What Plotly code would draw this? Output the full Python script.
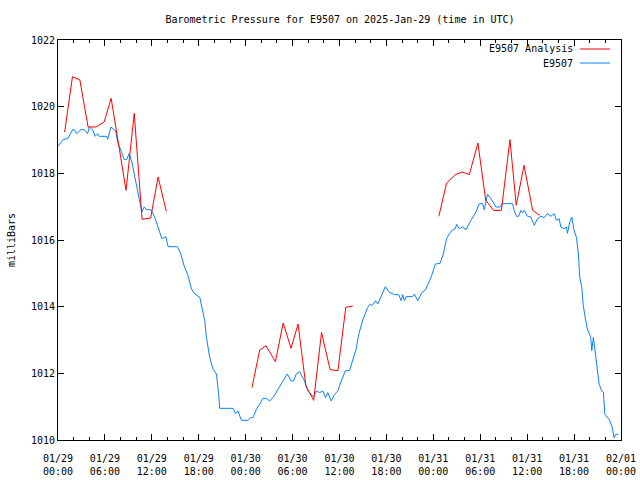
import pandas as pd
import plotly.graph_objects as go

BASE = pd.Timestamp("2025-01-29 00:00")

# Station observations (hours after 2025-01-29 00:00 UTC, pressure in mb)
obs_hours = [0, 0.68, 1.24, 1.88, 2.08, 2.39, 2.94, 3.36, 3.79, 4.0, 4.43, 4.76, 5.07, 5.27, 6.22, 6.35,
             6.77, 7.19, 7.40, 7.62, 8.04, 8.46, 8.77, 9.10, 9.45, 9.96, 10.30, 10.72, 11.02, 11.32,
             11.87, 12.17, 12.51, 12.86, 13.28, 13.79, 14.08, 15.28, 15.70, 16.12, 16.63, 17.07,
             17.49, 18.13, 18.42, 18.77, 18.98, 19.40, 19.83, 20.26, 20.55, 20.68, 22.38, 22.72,
             23.02, 23.45, 24.29, 24.64, 24.93, 25.37, 25.79, 26.21, 26.64, 27.06, 27.49, 28.34,
             28.98, 29.32, 29.83, 30.13, 30.47, 30.89, 31.53, 31.95, 32.39, 32.68, 33.03, 33.45,
             33.87, 34.21, 34.51, 34.94, 35.36, 35.78, 36.22, 36.77, 37.28, 37.70, 38.13, 38.47,
             38.98, 39.61, 39.92, 40.18, 40.60, 40.89, 41.33, 41.87, 42.38, 43.02, 43.57, 43.88,
             44.08, 44.30, 44.52, 45.36, 45.58, 46.00, 46.56, 46.98, 47.71, 48.26, 48.86, 49.28,
             49.70, 50.04, 50.47, 50.81, 50.98, 51.32, 51.74, 52.18, 52.81, 53.45, 53.87, 54.30,
             54.51, 54.93, 55.37, 56.01, 56.52, 56.77, 58.13, 58.34, 58.64, 58.89, 59.20, 59.40,
             59.62, 60.04, 60.47, 60.90, 61.32, 61.75, 62.17, 62.60, 63.03, 63.45, 63.74, 64.09,
             64.30, 64.72, 65.02, 65.15, 65.45, 65.71, 66.00, 66.30, 66.55, 66.73, 66.99, 67.15,
             67.41, 67.70, 68.13, 68.26, 68.47, 68.68, 68.98, 69.20, 69.54, 69.75, 69.93, 70.48,
             70.83, 71.12, 71.32, 71.66]
obs_pressure = [1018.81, 1019.02, 1019.04, 1019.31, 1019.31, 1019.19, 1019.31, 1019.31, 1019.19, 1019.39,
                1019.31, 1019.11, 1019.19, 1019.11, 1019.11, 1019.02, 1019.39, 1019.31, 1019.24, 1018.94,
                1018.69, 1018.41, 1018.41, 1018.59, 1018.34, 1017.74, 1017.29, 1016.84, 1016.99, 1016.91,
                1016.91, 1016.79, 1016.59, 1016.34, 1016.04, 1016.10, 1015.80, 1015.80, 1015.58, 1015.23,
                1014.93, 1014.53, 1014.38, 1014.28, 1013.93, 1013.58, 1013.08, 1012.48, 1012.13, 1011.98,
                1011.37, 1010.95, 1010.95, 1010.79, 1010.87, 1010.59, 1010.59, 1010.67, 1010.67, 1010.92,
                1011.07, 1011.25, 1011.25, 1011.17, 1011.27, 1011.62, 1011.86, 1011.98, 1011.77, 1011.77,
                1011.98, 1012.05, 1011.77, 1011.47, 1011.37, 1011.29, 1011.47, 1011.42, 1011.47, 1011.27,
                1011.42, 1011.17, 1011.37, 1011.47, 1011.77, 1012.08, 1012.08, 1012.38, 1012.73, 1013.18,
                1013.60, 1013.98, 1014.08, 1014.03, 1014.18, 1014.08, 1014.33, 1014.60, 1014.43, 1014.36,
                1014.36, 1014.18, 1014.36, 1014.18, 1014.30, 1014.30, 1014.38, 1014.18, 1014.43, 1014.50,
                1014.88, 1015.28, 1015.30, 1015.58, 1016.04, 1016.19, 1016.31, 1016.34, 1016.47, 1016.34,
                1016.39, 1016.31, 1016.59, 1016.84, 1017.09, 1017.09, 1016.91, 1017.37, 1017.24, 1016.99,
                1016.99, 1017.09, 1017.09, 1016.89, 1016.71, 1016.71, 1016.89, 1016.81, 1016.89, 1016.71,
                1016.69, 1016.44, 1016.64, 1016.71, 1016.67, 1016.79, 1016.71, 1016.79, 1016.59, 1016.64,
                1016.39, 1016.34, 1016.39, 1016.20, 1016.54, 1016.69, 1016.29, 1016.08, 1015.58, 1014.88,
                1014.58, 1014.08, 1013.68, 1013.33, 1013.08, 1012.68, 1013.08, 1012.68, 1012.23, 1011.68,
                1011.47, 1011.42, 1010.77, 1010.62, 1010.42, 1010.07, 1010.17, 1010.17]

# Analysis segments
ana1_hours = [0.85, 1.85, 2.8, 3.85, 4.85, 5.9, 6.8, 7.75, 8.7, 9.75, 10.75, 11.85, 12.8, 13.85]
ana1_pressure = [1019.24, 1020.90, 1020.80, 1019.39, 1019.39, 1019.54, 1020.25, 1018.90, 1017.49,
                 1019.80, 1016.62, 1016.66, 1017.89, 1016.86]
ana2_hours = [24.8, 25.8, 26.6, 27.8, 28.8, 29.8, 30.7, 31.7, 32.7, 33.7, 34.8, 35.8, 36.8, 37.7]
ana2_pressure = [1011.57, 1012.70, 1012.83, 1012.35, 1013.51, 1012.75, 1013.48, 1011.62, 1011.19,
                 1013.23, 1012.11, 1012.08, 1013.98, 1014.02]
ana3_hours = [48.7, 49.7, 50.8, 51.7, 52.6, 53.7, 54.7, 55.7, 56.7, 57.8, 58.6, 59.6, 60.7, 61.6]
ana3_pressure = [1016.71, 1017.71, 1017.96, 1018.04, 1017.96, 1018.91, 1017.19, 1016.89, 1016.89,
                 1019.01, 1017.04, 1018.24, 1016.89, 1016.74]

legend_names = ["E9507 Analysis", "E9507"]
series_colors = ["#ff0000", "#0a80ff"]


def to_time(hours):
    return [BASE + pd.Timedelta(hours=h) for h in hours]


ana_x, ana_y = [], []
for hs, ps in [(ana1_hours, ana1_pressure), (ana2_hours, ana2_pressure), (ana3_hours, ana3_pressure)]:
    ana_x += to_time(hs) + [None]
    ana_y += ps + [None]

FONT = "DejaVu Sans Mono"
ML, MR, MT, MB = 58, 19, 40, 40
PW, PH = 640 - ML - MR, 480 - MT - MB

fig = go.Figure()
fig.add_trace(go.Scatter(x=to_time(obs_hours), y=obs_pressure, mode="lines",
                         line=dict(color=series_colors[1], width=1), name=legend_names[1]))
fig.add_trace(go.Scatter(x=ana_x, y=ana_y, mode="lines", connectgaps=False,
                         line=dict(color=series_colors[0], width=1), name=legend_names[0]))

fig.update_layout(
    width=640, height=480,
    margin=dict(l=ML, r=MR, t=MT, b=MB),
    paper_bgcolor="white", plot_bgcolor="white",
    showlegend=False,
    font=dict(family=FONT, size=10, color="black"),
    title=dict(text="Barometric Pressure for E9507 on 2025-Jan-29 (time in UTC)",
               x=340 / 640, xanchor="center", y=1 - 19 / 480, yanchor="middle",
               font=dict(family=FONT, size=10, color="black")),
)

fig.update_xaxes(
    type="date",
    range=[BASE, BASE + pd.Timedelta(hours=72)],
    tick0=BASE, dtick=6 * 3600 * 1000,
    tickformat="%m/%d<br>%H:%M",
    ticks="inside", ticklen=6, tickcolor="black", tickwidth=1,
    minor=dict(dtick=2 * 3600 * 1000, ticks="inside", ticklen=3, tickcolor="black"),
    showline=True, linecolor="black", linewidth=1, mirror="allticks",
    showgrid=False, zeroline=False, automargin=False,
    ticklabelstandoff=9,
    tickfont=dict(family=FONT, size=10, color="black"),
)
fig.update_yaxes(
    range=[1010, 1022], dtick=2, tick0=1010,
    ticks="inside", ticklen=6, tickcolor="black", tickwidth=1,
    showline=True, linecolor="black", linewidth=1, mirror="allticks",
    showgrid=False, zeroline=False, automargin=False,
    tickfont=dict(family=FONT, size=10, color="black"),
    title=dict(text="milliBars", font=dict(family=FONT, size=10, color="black"), standoff=13),
)

# Legend drawn at top right
for name, color, ypx in zip(legend_names, series_colors, [49, 63]):
    yy = (480 - MB - ypx) / PH
    fig.add_annotation(x=(575 - ML) / PW, y=yy, xref="paper", yref="paper", text=name,
                       showarrow=False, xanchor="right", yanchor="middle",
                       font=dict(family=FONT, size=10, color="black"))
    fig.add_shape(type="line", xref="paper", yref="paper", x0=(580 - ML) / PW, x1=(610 - ML) / PW,
                  y0=yy, y1=yy, line=dict(color=color, width=1))

fig.write_html("out.html", config={"displayModeBar": False},
               post_script="document.body.style.margin='0';")
